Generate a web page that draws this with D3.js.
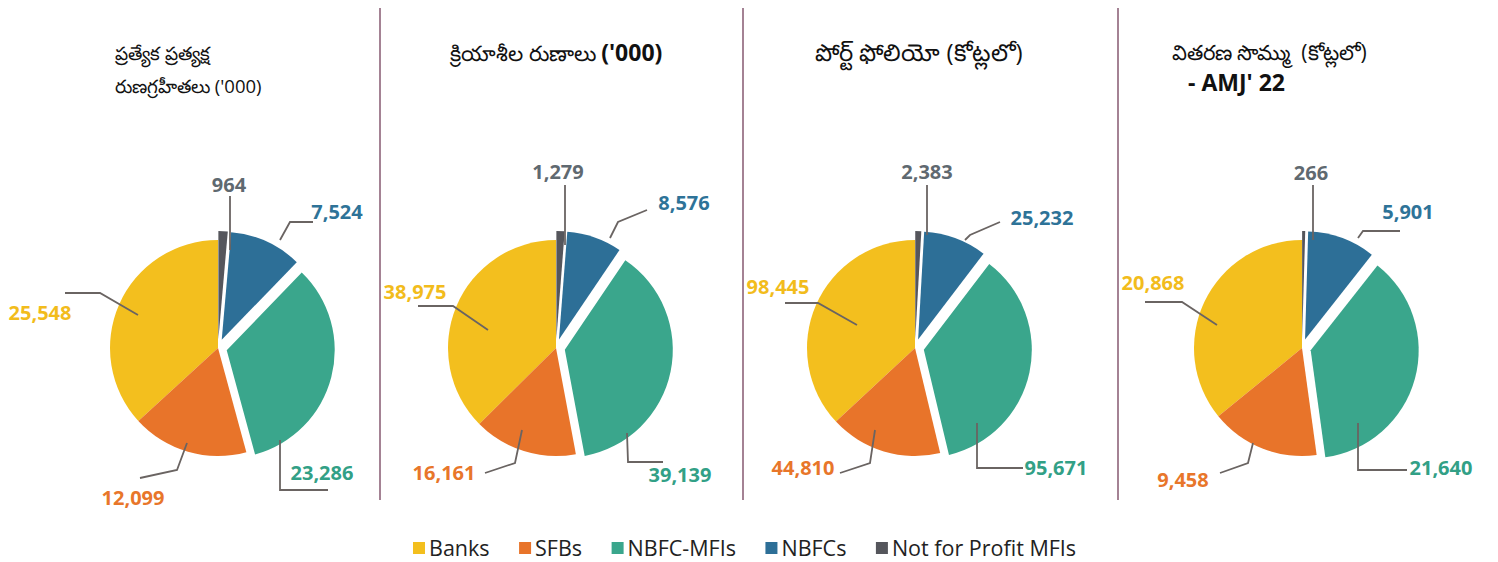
<!DOCTYPE html>
<html>
<head>
<meta charset="utf-8">
<script src="https://cdn.jsdelivr.net/npm/d3@7"></script>
<style>
  html, body { margin: 0; padding: 0; background: #fff; }
  svg { display: block; }
  text { font-family: "Open Sans", "Noto Sans", sans-serif; white-space: pre; }
</style>
</head>
<body>
<svg id="chart" width="1498" height="562"></svg>
<script>
// data
const categories = ["Banks", "SFBs", "NBFC-MFIs", "NBFCs", "Not for Profit MFIs"];
const borrowers = [25548, 12099, 23286, 7524, 964];
const activeLoans = [38975, 16161, 39139, 8576, 1279];
const portfolio = [98445, 44810, 95671, 25232, 2383];
const disbursement = [20868, 9458, 21640, 5901, 266];
const series = [borrowers, activeLoans, portfolio, disbursement];

const title1 = ["ప్రత్యేక ప్రత్యక్ష", "రుణగ్రహీతలు ('000)"];
const title2 = ["క్రియాశీల రుణాలు ", "('000)"];
const title3 = "పోర్ట్ ఫోలియో (కోట్లలో)";
const title4 = ["వితరణ సొమ్ము  (కోట్లలో)", "- AMJ' 22"];

// styles / layout
const sliceColors = ["#F3BF1E", "#E8742A", "#3AA68C", "#2D6F97", "#55565c"];
const labelColors = ["#F2BC1C", "#E8762A", "#32A086", "#2E7398", "#5F6970"];
const exploded = new Set(["NBFC-MFIs", "NBFCs", "Not for Profit MFIs"]);
const centers = [[218, 348], [556, 348], [915, 348], [1302, 348]];
const radius = 108;

// per chart, per category: label centre and leader line points, relative to the pie centre
const labelLayout = [
  [
    { l: [-178, -35], p: [[-153, -55], [-118, -55], [-80, -33]] },
    { l: [-85, 150], p: [[-78, 130], [-41, 122], [-31, 95]] },
    { l: [104, 125], p: [[110, 142], [62, 142], [62, 92]] },
    { l: [119, -136], p: [[95, -126], [72, -126], [62, -108]] },
    { l: [11, -163], p: [[12, -152], [12, -98]] }
  ],
  [
    { l: [-141, -56], p: [[-138, -42], [-103, -42], [-68, -18]] },
    { l: [-112, 125], p: [[-71, 125], [-41, 115], [-34, 82]] },
    { l: [124, 127], p: [[107, 114], [72, 114], [71, 85]] },
    { l: [128, -145], p: [[91, -138], [62, -126], [54, -110]] },
    { l: [2, -176], p: [[9, -163], [9, -103]] }
  ],
  [
    { l: [-137, -61], p: [[-130, -45], [-97, -45], [-58, -23]] },
    { l: [-112, 120], p: [[-75, 125], [-45, 115], [-40, 82]] },
    { l: [141, 120], p: [[108, 120], [62, 120], [62, 75]] },
    { l: [127, -130], p: [[85, -126], [55, -113], [50, -108]] },
    { l: [12, -176], p: [[12, -163], [12, -113]] }
  ],
  [
    { l: [-149, -65], p: [[-157, -46], [-120, -46], [-85, -23]] },
    { l: [-119, 132], p: [[-82, 125], [-54, 115], [-49, 95]] },
    { l: [139, 120], p: [[105, 122], [56, 122], [56, 75]] },
    { l: [106, -136], p: [[98, -117], [61, -117], [56, -110]] },
    { l: [9, -175], p: [[11, -163], [11, -108]] }
  ]
];

const svg = d3.select("#chart");
const fmt = d3.format(",");

// separators
[380, 743, 1118].forEach((x) => {
  svg.append("line")
    .attr("x1", x).attr("x2", x).attr("y1", 8).attr("y2", 500)
    .attr("stroke", "#a48294").attr("stroke-width", 2);
});

// titles
svg.append("text").attr("x", 115).attr("y", 60).attr("font-size", 18.5).attr("fill", "#111")
  .text(title1[0]);
svg.append("text").attr("x", 115).attr("y", 93).attr("font-size", 18.5).attr("fill", "#111")
  .text(title1[1]);

const t2 = svg.append("text").attr("x", 450).attr("y", 61).attr("font-size", 21.5).attr("fill", "#111");
t2.append("tspan").text(title2[0]);
t2.append("tspan").attr("font-weight", "bold").attr("font-size", 23).text(title2[1]);

svg.append("text").attr("x", 815).attr("y", 61).attr("font-size", 24).attr("fill", "#111")
  .text(title3);

svg.append("text").attr("x", 1172).attr("y", 60).attr("font-size", 21).attr("fill", "#111")
  .text(title4[0]);
svg.append("text").attr("x", 1188).attr("y", 91).attr("font-size", 23).attr("font-weight", "bold").attr("fill", "#111")
  .text(title4[1]);

// pies
const pie = d3.pie().sort(null).startAngle(0).endAngle(-2 * Math.PI);
const arc = d3.arc().innerRadius(0).outerRadius(radius);
const line = d3.line();

series.forEach((values, ci) => {
  const [cx, cy] = centers[ci];
  const g = svg.append("g").attr("transform", `translate(${cx},${cy})`);
  const arcs = pie(values);

  g.selectAll("path.slice")
    .data(arcs)
    .join("path")
    .attr("class", "slice")
    .attr("d", arc)
    .attr("fill", (d, i) => sliceColors[i])
    .attr("transform", (d, i) => {
      if (!exploded.has(categories[i])) return null;
      const a = (d.startAngle + d.endAngle) / 2;
      const off = 9;
      return `translate(${Math.sin(a) * off},${-Math.cos(a) * off})`;
    });

  const lay = labelLayout[ci];

  g.selectAll("path.leader")
    .data(arcs)
    .join("path")
    .attr("class", "leader")
    .attr("d", (d, i) => line(lay[i].p))
    .attr("fill", "none")
    .attr("stroke", "#6a6462")
    .attr("stroke-width", 1.8);

  g.selectAll("text.val")
    .data(arcs)
    .join("text")
    .attr("class", "val")
    .attr("x", (d, i) => lay[i].l[0])
    .attr("y", (d, i) => lay[i].l[1])
    .attr("dy", "0.36em")
    .attr("text-anchor", "middle")
    .attr("font-size", 20)
    .attr("font-weight", "bold")
    .attr("fill", (d, i) => labelColors[i])
    .text((d) => fmt(d.data));
});

// legend
const legend = svg.append("g").attr("transform", "translate(413,548)");
let lx = 0;
categories.forEach((c, i) => {
  const item = legend.append("g").attr("transform", `translate(${lx},0)`);
  item.append("rect").attr("x", 0).attr("y", -6).attr("width", 12).attr("height", 12)
    .attr("fill", sliceColors[i]);
  const t = item.append("text").attr("x", 16).attr("y", 0).attr("dy", "0.36em")
    .attr("font-size", 21.5).attr("fill", "#222").text(c);
  lx += 16 + t.node().getComputedTextLength() + 29.5;
});
</script>
</body>
</html>
